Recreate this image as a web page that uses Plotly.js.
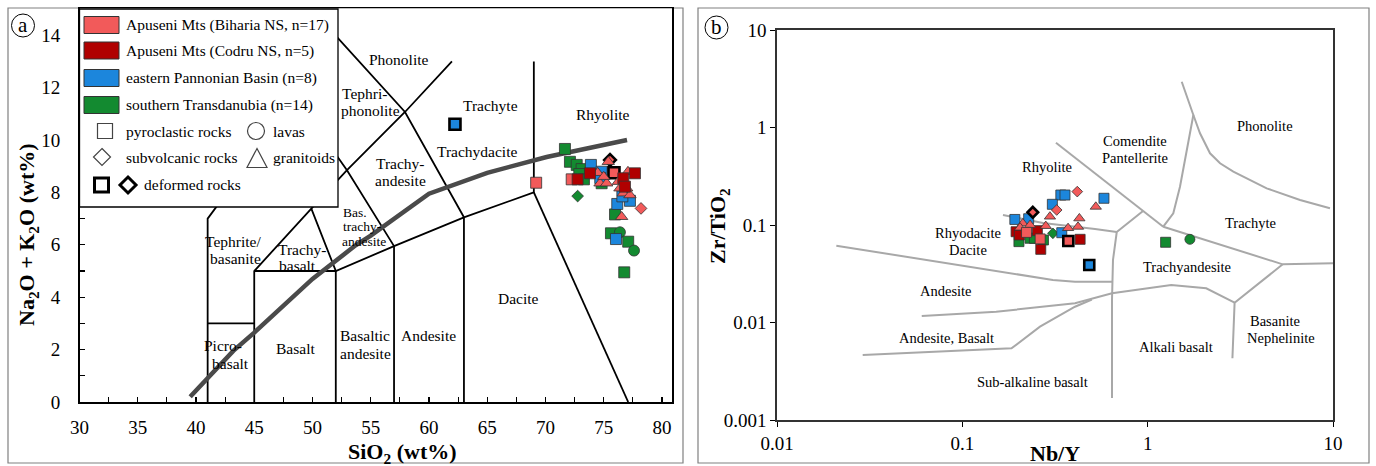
<!DOCTYPE html>
<html><head><meta charset="utf-8">
<script src="https://cdn.plot.ly/plotly-3.0.1.min.js"></script>
<style>html,body{margin:0;padding:0;background:#fff;}#chart{width:1376px;height:466px;}</style>
</head><body><div id="chart"></div>
<script>
// ================= DATA =================
// Panel (a) TAS: SiO2 (wt%) and Na2O+K2O (wt%)
const tasXTicks = [30,35,40,45,50,55,60,65,70,75,80];
const tasYTicks = [0,2,4,6,8,10,12,14];
const logXTicks = [0.01,0.1,1,10];
const logXTickText = ['0.01','0.1','1','10'];
const logYTicks = [0.001,0.01,0.1,1,10];
const logYTickText = ['0.001','0.01','0.1','1','10'];

const groupNames = ['Apuseni Mts (Biharia NS, n=17)','Apuseni Mts (Codru NS, n=5)','eastern Pannonian Basin (n=8)','southern Transdanubia (n=14)'];
const rockNames = ['pyroclastic rocks','lavas','subvolcanic rocks','granitoids','deformed rocks'];

// Biharia NS
const biharia_SiO2 = [69.2,72.25,75.54,75.88,74.48,74.68,75.25,75.39,76.25,76.39,76.97,76.68,77.25,77.08,76.54,75.0,78.2];
const biharia_alk  = [8.37,8.5,9.24,8.75,8.75,8.35,8.35,9.17,8.41,8.16,8.16,7.97,7.9,8.79,7.07,8.6,7.39];
const biharia_rock = ['pyro','pyro','subvol','pyro','granit','granit','granit','granit','granit','granit','granit','granit','granit','granit','granit','granit','subvol'];
const biharia_def  = [0,0,1,1,0,0,0,0,0,0,0,0,0,0,0,0,0];
// Codru NS
const codru_SiO2 = [72.76,73.82,76.68,77.68,76.82];
const codru_alk  = [8.5,8.73,8.54,8.73,8.22];
const codru_rock = ['pyro','pyro','pyro','pyro','pyro'];
const codru_def  = [0,0,0,0,0];
// eastern Pannonian Basin
const pannon_SiO2 = [62.23,73.9,74.82,74.7,76.16,77.25,76.05,76.6];
const pannon_alk  = [10.6,9.05,8.79,8.55,7.56,7.68,6.22,7.85];
const pannon_rock = ['pyro','pyro','pyro','pyro','pyro','pyro','pyro','pyro'];
const pannon_def  = [1,0,0,0,0,0,0,0];
// southern Transdanubia
const transd_SiO2 = [71.67,72.1,72.68,73.1,72.9,74.82,72.76,75.97,75.62,76.39,77.1,77.6,76.76,73.3];
const transd_alk  = [9.66,9.17,9.05,8.89,8.7,8.35,7.86,7.16,6.44,6.48,6.12,5.78,4.95,8.5];
const transd_rock = ['pyro','pyro','pyro','pyro','pyro','pyro','subvol','pyro','pyro','lava','pyro','lava','pyro','pyro'];
const transd_def  = [0,0,0,0,0,0,0,0,0,0,0,0,0,0];

// Panel (b): Nb/Y and Zr/TiO2
const biharia_NbY  = [0.417,0.323,0.240,0.525,0.297,0.212,0.232,0.282,0.428,0.421,0.372,0.205,0.222,0.263,0.373];
const biharia_ZrTi = [0.220,0.1425,0.135,0.154,0.122,0.104,0.100,0.0977,0.117,0.096,0.093,0.094,0.084,0.072,0.0686];
const biharia_rockB = ['subvol','subvol','subvol','granit','granit','granit','granit','granit','granit','granit','granit','granit','pyro','pyro','pyro'];
const biharia_defB  = [0,0,1,0,0,0,0,0,0,0,0,0,0,0,1];
const codru_NbY  = [0.195,0.203,0.254,0.265,0.432];
const codru_ZrTi = [0.0853,0.0789,0.0875,0.0563,0.0713];
const codru_rockB = ['pyro','pyro','pyro','pyro','pyro'];
const codru_defB  = [0,0,0,0,0];
const pannon_NbY  = [0.340,0.358,0.306,0.581,0.192,0.228,0.344,0.484];
const pannon_ZrTi = [0.203,0.203,0.163,0.188,0.114,0.116,0.0834,0.0389];
const pannon_rockB = ['pyro','pyro','pyro','pyro','pyro','pyro','pyro','pyro'];
const pannon_defB  = [0,0,0,0,0,0,0,1];
const transd_NbY  = [0.202,0.232,0.245,0.274,1.25,0.308,1.69];
const transd_ZrTi = [0.0675,0.0731,0.0731,0.0702,0.0665,0.0822,0.0713];
const transd_rockB = ['pyro','pyro','pyro','pyro','pyro','subvol','lava'];
const transd_defB  = [0,0,0,0,0,0,0];

// TAS field boundaries (SiO2, Na2O+K2O)
const tasBoundaries = [
  [[41,0],[41,7],[45,9.4]],
  [[41,3],[45,3]],
  [[45,0],[45,5],[49.9,7.38],[52.96,8.85],[57.94,11.07],[61.97,13.0]],
  [[45,5],[52,5],[57,5.95],[63,7.05],[69,8],[69,13]],
  [[49.9,7.38],[52,5],[52,0]],
  [[57,0],[57,5.95]],
  [[63,0],[63,7.05]],
  [[69,8],[77.1,0]],
  [[50.5,10.4],[52.96,8.85],[57,5.95]],
  [[51.6,14.18],[57.94,11.07],[63,7.05]]
];
// Alkaline / subalkaline divide (Irvine & Baragar)
const alkalineDivide = [[39.5,0.2],[43.2,1.95],[45,2.65],[48,3.9],[50,4.7],[53.7,5.98],[55,6.35],[60,7.95],[65,8.75],[70.1,9.35],[77,10]];
// Winchester & Floyd field boundaries (Nb/Y, Zr/TiO2)
const wfBoundaries = [
  [[0.320,0.698],[0.944,0.1392],[1.214,0.0961]],
  [[1.214,0.0961],[1.375,0.1318],[1.494,0.247],[1.624,0.588],[1.764,1.344],[1.527,2.949]],
  [[1.764,1.344],[1.916,0.872],[2.170,0.5436],[2.458,0.4293],[2.899,0.352],[4.388,0.2378],[6.64,0.1804],[9.63,0.1483]],
  [[1.214,0.0961],[5.355,0.0395],[10,0.0405]],
  [[0.1657,0.1266],[0.2724,0.1048],[0.520,0.0910],[0.681,0.0847]],
  [[0.944,0.1392],[0.681,0.0847],[0.650,0.0438],[0.642,0.0170],[0.642,0.00168]],
  [[0.0209,0.0613],[0.308,0.0273],[0.4055,0.0262],[0.642,0.0262]],
  [[0.0604,0.01166],[0.1523,0.0129],[0.4055,0.01574],[0.642,0.01994],[1.340,0.02426],[2.070,0.02244],[2.945,0.01595]],
  [[0.0290,0.00464],[0.1842,0.00543],[0.2624,0.00906],[0.4055,0.01452],[0.50,0.0172]],
  [[5.355,0.0395],[2.945,0.01595],[2.866,0.0043]]
];

// ================= STYLE / LAYOUT =================
const W = 1376, H = 466;
const PX = x => x / W, PY = y => 1 - y / H;
const FONT = '"Liberation Serif", "Times New Roman", serif';
const COLORS = ['#F25A5A', '#B00000', '#1C86DC', '#138A30'];
const SYM = {pyro:'square', lava:'circle', subvol:'diamond', granit:'triangle-up'};
const SZF = {pyro:1, lava:1, subvol:0.82, granit:0.98};

const traces = [];
function lineTrace(pts, xa, ya, color, width) {
  return {type:'scatter', mode:'lines', x:pts.map(p=>p[0]), y:pts.map(p=>p[1]), xaxis:xa, yaxis:ya,
    line:{color:color, width:width}, hoverinfo:'skip', showlegend:false};
}
function markerTrace(xs, ys, rocks, defs, color, xa, ya, sz) {
  return {type:'scatter', mode:'markers', x:xs, y:ys, xaxis:xa, yaxis:ya, showlegend:false, hoverinfo:'skip', cliponaxis:false,
    marker:{color:color, opacity:1, symbol:rocks.map(r=>SYM[r]), size:rocks.map(r=>sz*SZF[r]),
      line:{color:defs.map(d=>d?'#000':'#333'), width:defs.map(d=>d?2.6:0.8)}}};
}
tasBoundaries.forEach(l => traces.push(lineTrace(l, 'x', 'y', '#000', 1.8)));
traces.push(lineTrace(alkalineDivide, 'x', 'y', '#4a4a4a', 4.5));
wfBoundaries.forEach(l => traces.push(lineTrace(l, 'x2', 'y2', '#a8a8a8', 2)));

traces.push(markerTrace(transd_SiO2, transd_alk, transd_rock, transd_def, COLORS[3], 'x', 'y', 11));
traces.push(markerTrace(pannon_SiO2, pannon_alk, pannon_rock, pannon_def, COLORS[2], 'x', 'y', 11));
traces.push(markerTrace(biharia_SiO2, biharia_alk, biharia_rock, biharia_def, COLORS[0], 'x', 'y', 11));
traces.push(markerTrace(codru_SiO2, codru_alk, codru_rock, codru_def, COLORS[1], 'x', 'y', 11));

traces.push(markerTrace(transd_NbY, transd_ZrTi, transd_rockB, transd_defB, COLORS[3], 'x2', 'y2', 10));
traces.push(markerTrace(pannon_NbY, pannon_ZrTi, pannon_rockB, pannon_defB, COLORS[2], 'x2', 'y2', 10));
traces.push(markerTrace(codru_NbY, codru_ZrTi, codru_rockB, codru_defB, COLORS[1], 'x2', 'y2', 10));
traces.push(markerTrace(biharia_NbY, biharia_ZrTi, biharia_rockB, biharia_defB, COLORS[0], 'x2', 'y2', 10));

// ---- annotations
const ann = [];
function lab(text, x, y, size, anchor, extra) {
  ann.push(Object.assign({text:text, x:PX(x), y:PY(y), xref:'paper', yref:'paper', showarrow:false, borderpad:0,
    xanchor:anchor||'center', yanchor:'middle', font:{family:FONT, size:size||15.5, color:'#000'}}, extra||{}));
}
// panel a field labels
[['Phonolite',399,60],['Trachyte',490,105],['Rhyolite',603,114],['Trachydacite',477,152],
 ['Trachy-',400,163],['andesite',400,180],['Tephrite/',233,242],['basanite',235,258],
 ['Trachy-',302,250],['basalt',297,265],['Picro-',223,345],['basalt',230,363],['Basalt',295,348],
 ['Basaltic',365,335],['andesite',365,353],['Andesite',428,335],['Dacite',518,298]].forEach(a=>lab(a[0],a[1],a[2],15.5));
lab('Tephri-',341,94,15.5,'left'); lab('phonolite',340,110,15.5,'left');
lab('Bas.',342,212,13.5,'left'); lab('trachy-',342,227,13.5,'left'); lab('andesite',341,242,13.5,'left');
// panel b field labels
[['Rhyolite',1047,167],['Comendite',1135,141],['Pantellerite',1135,158],['Phonolite',1265,126],['Trachyte',1250,223],
 ['Rhyodacite',968,233],['Dacite',968,250],['Trachyandesite',1187,267],['Andesite',946,291],['Andesite, Basalt',946,338],
 ['Sub-alkaline basalt',1032,382],['Alkali basalt',1176,347],['Basanite',1275,321],['Nephelinite',1281,338]].forEach(a=>lab(a[0],a[1],a[2],14.5));
// axis titles
lab('<b>SiO<sub>2</sub> (wt%)</b>',402,453,22);
lab('<b>Na<sub>2</sub>O + K<sub>2</sub>O (wt%)</b>',28,235,22,'center',{textangle:-90});
lab('<b>Nb/Y</b>',1055,453,22);
lab('<b>Zr/TiO<sub>2</sub></b>',719,226,22,'center',{textangle:-90});
// panel letters
lab('a',23,25,21); lab('b',716.5,27,21);
// legend texts
groupNames.forEach((g,i)=>lab(g,125,[25,50.5,78,105][i],15.5,'left'));
lab(rockNames[0],125,131,15.5,'left'); lab(rockNames[1],272,131,15.5,'left');
lab(rockNames[2],125,157,15.5,'left'); lab(rockNames[3],272,157,15.5,'left');
lab(rockNames[4],143,185,15.5,'left');

// ---- shapes
const shapes = [];
function rectPx(x0,y0,x1,y1,style){ shapes.push(Object.assign({type:'rect',xref:'paper',yref:'paper',x0:PX(x0),x1:PX(x1),y0:PY(y1),y1:PY(y0),layer:'above'},style)); }
function pathPx(pts,style){ const d='M'+pts.map(p=>PX(p[0])+','+PY(p[1])).join('L')+'Z'; shapes.push(Object.assign({type:'path',xref:'paper',yref:'paper',path:d,layer:'above'},style)); }
function circPx(cx,cy,r,style){ shapes.push(Object.assign({type:'circle',xref:'paper',yref:'paper',x0:PX(cx-r),x1:PX(cx+r),y0:PY(cy+r),y1:PY(cy-r),layer:'above'},style)); }
// outer panel frames
rectPx(8,8,683,463,{line:{color:'#808080',width:1.2},fillcolor:'rgba(0,0,0,0)',layer:'below'});
rectPx(698,8,1369,463,{line:{color:'#808080',width:1.2},fillcolor:'rgba(0,0,0,0)',layer:'below'});
// panel letters circles
circPx(23,25.5,11.5,{line:{color:'#000',width:1}});
circPx(716.5,27.5,11.5,{line:{color:'#000',width:1}});
// legend box
rectPx(79.5,9,338,207,{line:{color:'#000',width:1.3},fillcolor:'#fff'});
[25,50.5,78,105].forEach((y,i)=>rectPx(84,y-8.5,119,y+8.5,{line:{color:'#333',width:1},fillcolor:COLORS[i]}));
rectPx(97.5,123.5,112.5,138.5,{line:{color:'#444',width:1.2},fillcolor:'#fff'});
circPx(256,131,8.5,{line:{color:'#444',width:1.2},fillcolor:'#fff'});
pathPx([[102,148.5],[110.5,157],[102,165.5],[93.5,157]],{line:{color:'#444',width:1.2},fillcolor:'#fff'});
pathPx([[247,167.5],[267,167.5],[257,148.5]],{line:{color:'#444',width:1.2},fillcolor:'#fff'});
rectPx(94.5,178,108.5,192,{line:{color:'#000',width:3},fillcolor:'#fff'});
pathPx([[128,177],[136,185],[128,193],[120,185]],{line:{color:'#000',width:3},fillcolor:'#fff'});

const tickFont = {family:FONT, size:19, color:'#000'};
const layout = {
  width:W, height:H, margin:{l:0,r:0,t:0,b:0}, paper_bgcolor:'#fff', plot_bgcolor:'#fff', showlegend:false,
  xaxis:{domain:[PX(79.5),PX(672)], range:[30,80.86], tickvals:tasXTicks, ticks:'inside', ticklen:5, tickcolor:'#000', tickwidth:1.2,
    minor:{tickvals:[32.5,37.5,42.5,47.5,52.5,57.5,62.5,67.5,72.5,77.5], ticks:'inside', ticklen:5, tickcolor:'#000', tickwidth:1.2},
    showline:true, linecolor:'#000', linewidth:1.5, mirror:true, showgrid:false, zeroline:false, tickfont:tickFont, ticklabelstandoff:8, anchor:'y'},
  yaxis:{domain:[PY(402),PY(8)], range:[0,15.04], tickvals:tasYTicks, ticks:'inside', ticklen:5, tickcolor:'#000', tickwidth:1.2,
    minor:{tickvals:[1,3,5,7,9,11,13], ticks:'inside', ticklen:5, tickcolor:'#000', tickwidth:1.2},
    showline:true, linecolor:'#000', linewidth:1.5, mirror:true, showgrid:false, zeroline:false, tickfont:tickFont, ticklabelstandoff:14, anchor:'x'},
  xaxis2:{domain:[PX(777),PX(1333)], type:'log', range:[-2,1], tickvals:logXTicks, ticktext:logXTickText, ticks:'outside', ticklen:5, tickcolor:'#000',
    showline:true, linecolor:'#333', linewidth:1.8, mirror:true, showgrid:false, zeroline:false, tickfont:tickFont, anchor:'y2'},
  yaxis2:{domain:[PY(420),PY(30)], type:'log', range:[-3,1], tickvals:logYTicks, ticktext:logYTickText, ticks:'outside', ticklen:5, tickcolor:'#000',
    showline:true, linecolor:'#333', linewidth:1.8, mirror:true, showgrid:false, zeroline:false, tickfont:tickFont, anchor:'x2'},
  annotations:ann, shapes:shapes
};
Plotly.newPlot('chart', traces, layout, {staticPlot:true, displayModeBar:false});
</script></body></html>
